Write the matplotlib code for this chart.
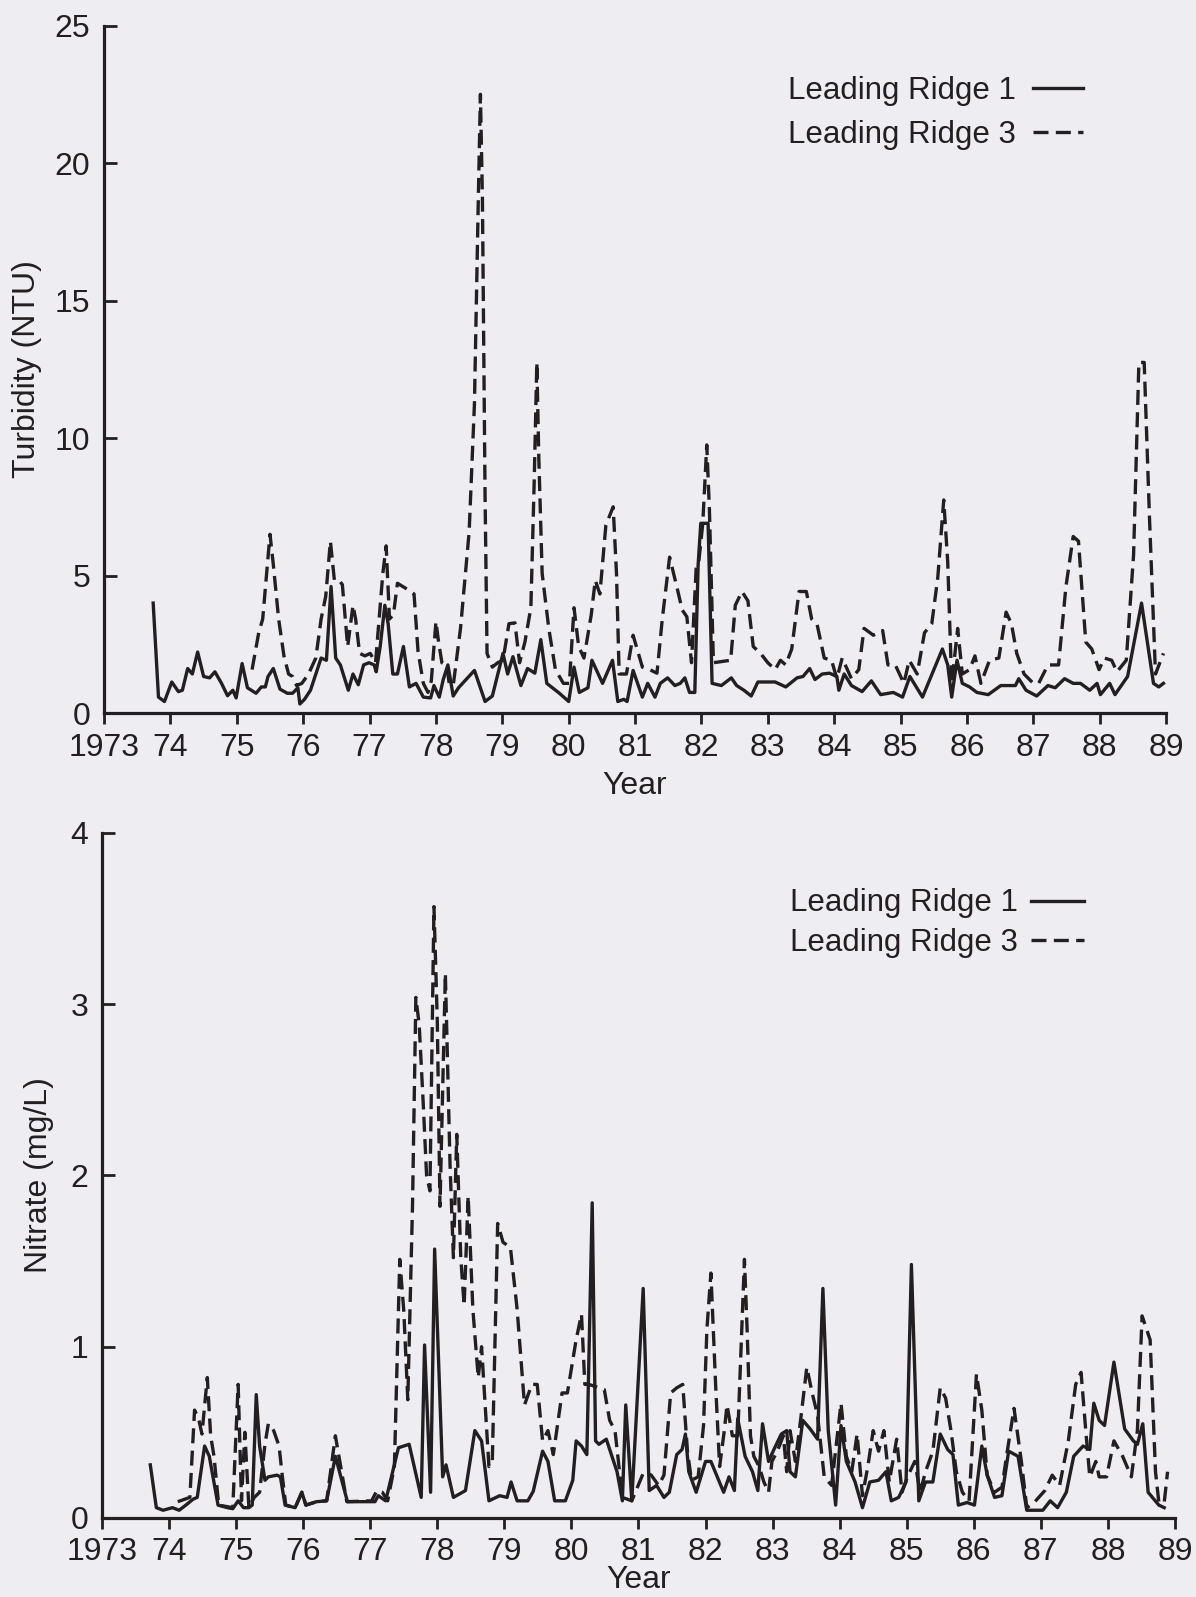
import matplotlib
matplotlib.use("Agg")
import matplotlib.pyplot as plt
import numpy as np

plt.rcParams['font.family'] = ['Liberation Sans', 'DejaVu Sans']

# axis ticks (two-digit years, first one written in full)
years = list(range(73, 90))
year_labels = ['1973'] + [str(y) for y in years[1:]]

# Turbidity (NTU), Leading Ridge 1
turb_lr1_x = [73.74, 73.82, 73.91, 74.02, 74.12, 74.18, 74.26, 74.33, 74.41, 74.50, 74.59, 74.67, 74.77, 74.86,
              74.94, 74.99, 75.08, 75.16, 75.29, 75.37, 75.43, 75.47, 75.55, 75.65, 75.76, 75.84, 75.92, 75.95,
              76.02, 76.11, 76.19, 76.27, 76.35, 76.42, 76.49, 76.56, 76.68, 76.75, 76.83, 76.91, 76.99, 77.07,
              77.10, 77.16, 77.23, 77.28, 77.35, 77.42, 77.51, 77.60, 77.70, 77.81, 77.92, 77.97, 78.05, 78.11,
              78.18, 78.26, 78.34, 78.58, 78.74, 78.85, 79.01, 79.08, 79.16, 79.28, 79.38, 79.49, 79.58, 79.67,
              79.86, 80.00, 80.08, 80.16, 80.29, 80.35, 80.51, 80.66, 80.74, 80.83, 80.88, 80.97, 81.11, 81.19,
              81.30, 81.38, 81.49, 81.60, 81.68, 81.75, 81.82, 81.90, 81.95, 81.99, 82.10, 82.16, 82.30, 82.45,
              82.53, 82.64, 82.75, 82.85, 83.11, 83.27, 83.44, 83.53, 83.63, 83.71, 83.82, 83.93, 84.04, 84.07,
              84.15, 84.26, 84.42, 84.56, 84.70, 84.89, 85.03, 85.14, 85.33, 85.63, 85.71, 85.77, 85.85, 85.93,
              86.04, 86.15, 86.32, 86.51, 86.73, 86.78, 86.89, 87.05, 87.22, 87.33, 87.47, 87.60, 87.71, 87.85,
              87.96, 88.01, 88.15, 88.23, 88.42, 88.63, 88.81, 88.89, 88.96]
turb_lr1 = [4.0, 0.58, 0.42, 1.13, 0.78, 0.83, 1.62, 1.42, 2.22, 1.33, 1.28, 1.5, 1.08, 0.63,
            0.83, 0.55, 1.8, 0.92, 0.72, 0.95, 0.95, 1.33, 1.62, 0.87, 0.72, 0.72, 0.92, 0.33,
            0.5, 0.83, 1.42, 2.0, 1.92, 4.6, 2.0, 1.75, 0.83, 1.42, 1.03, 1.75, 1.83, 1.75,
            1.5, 2.42, 3.92, 3.25, 1.42, 1.42, 2.42, 0.95, 1.08, 0.58, 0.55, 1.0, 0.58, 1.22,
            1.75, 0.62, 0.92, 1.55, 0.42, 0.62, 2.17, 1.42, 2.05, 1.0, 1.62, 1.45, 2.67, 1.08,
            0.72, 0.42, 1.67, 0.75, 0.92, 1.92, 1.08, 1.92, 0.42, 0.5, 0.42, 1.55, 0.58, 1.08,
            0.58, 1.08, 1.28, 1.0, 1.08, 1.28, 0.75, 0.75, 5.4, 6.9, 6.9, 1.08, 1.0, 1.28,
            1.0, 0.83, 0.62, 1.13, 1.13, 0.95, 1.28, 1.33, 1.62, 1.22, 1.42, 1.45, 1.33, 0.83,
            1.42, 1.0, 0.78, 1.17, 0.67, 0.75, 0.58, 1.33, 0.58, 2.33, 1.75, 0.58, 1.92, 1.08,
            0.95, 0.75, 0.67, 1.0, 1.0, 1.25, 0.83, 0.62, 1.0, 0.92, 1.25, 1.08, 1.08, 0.83,
            1.08, 0.67, 1.08, 0.67, 1.33, 4.0, 1.08, 0.95, 1.08]

# Turbidity (NTU), Leading Ridge 3
turb_lr3_x = [75.23, 75.33, 75.39, 75.50, 75.55, 75.63, 75.71, 75.78, 75.84, 75.90, 75.98, 76.08, 76.19, 76.27,
              76.34, 76.41, 76.47, 76.54, 76.59, 76.67, 76.75, 76.79, 76.85, 76.93, 77.01, 77.09, 77.20, 77.25,
              77.30, 77.36, 77.42, 77.57, 77.67, 77.73, 77.81, 77.88, 77.93, 78.00, 78.04, 78.09, 78.16, 78.20,
              78.26, 78.37, 78.50, 78.58, 78.64, 78.67, 78.70, 78.74, 78.77, 78.85, 78.93, 79.01, 79.10, 79.19,
              79.26, 79.34, 79.43, 79.48, 79.52, 79.55, 79.60, 79.70, 79.80, 79.92, 80.01, 80.08, 80.15, 80.23,
              80.34, 80.40, 80.47, 80.56, 80.67, 80.72, 80.76, 80.87, 80.97, 81.11, 81.22, 81.33, 81.41, 81.52,
              81.63, 81.71, 81.78, 81.85, 81.92, 81.96, 82.02, 82.08, 82.12, 82.18, 82.44, 82.51, 82.61, 82.70,
              82.78, 82.89, 83.00, 83.11, 83.19, 83.27, 83.36, 83.47, 83.58, 83.66, 83.74, 83.85, 83.96, 84.04,
              84.12, 84.26, 84.37, 84.45, 84.59, 84.73, 84.81, 84.92, 85.05, 85.13, 85.25, 85.36, 85.47, 85.56,
              85.65, 85.71, 85.77, 85.86, 85.93, 86.04, 86.12, 86.21, 86.34, 86.48, 86.59, 86.67, 86.75, 86.86,
              87.00, 87.08, 87.22, 87.38, 87.49, 87.60, 87.68, 87.79, 87.88, 87.99, 88.07, 88.18, 88.26, 88.40,
              88.51, 88.59, 88.67, 88.75, 88.84, 88.96]
turb_lr3 = [1.58, 2.92, 3.42, 6.5, 5.4, 3.42, 2.08, 1.42, 1.33, 1.0, 1.08, 1.42, 2.0, 3.42,
            4.25, 6.25, 4.83, 4.83, 4.67, 2.42, 3.92, 3.42, 2.17, 2.08, 2.17, 1.83, 5.08, 6.08,
            3.42, 3.58, 4.72, 4.5, 4.33, 2.25, 1.08, 0.75, 1.17, 3.33, 2.58, 1.83, 1.75, 1.08,
            1.0, 3.08, 6.58, 11.25, 18.9, 22.5, 18.75, 7.9, 2.17, 1.67, 1.83, 1.92, 3.25, 3.28,
            1.83, 2.58, 3.83, 8.4, 12.75, 9.25, 5.08, 3.08, 1.58, 1.08, 1.08, 3.83, 2.42, 2.0,
            3.58, 4.83, 4.33, 6.83, 7.5, 5.08, 1.42, 1.42, 2.83, 1.67, 1.58, 1.45, 3.42, 5.67,
            4.58, 3.75, 3.5, 1.83, 5.25, 5.5, 6.9, 9.75, 7.4, 1.83, 1.92, 3.92, 4.42, 4.08,
            2.42, 2.17, 1.83, 1.58, 1.92, 1.75, 2.33, 4.42, 4.42, 3.42, 3.25, 2.0, 1.92, 1.25,
            2.0, 1.25, 1.58, 3.08, 2.83, 3.0, 1.75, 1.75, 1.08, 1.92, 1.42, 2.92, 3.25, 4.92,
            7.75, 5.5, 1.08, 3.08, 1.42, 1.58, 2.08, 1.08, 1.92, 2.0, 3.67, 3.25, 2.17, 1.42,
            1.08, 1.08, 1.75, 1.75, 4.58, 6.42, 6.25, 2.58, 2.33, 1.58, 2.0, 1.92, 1.5, 1.92,
            5.75, 12.75, 12.75, 7.08, 1.42, 2.17]

# Nitrate (mg/L), Leading Ridge 1
nit_lr1_x = [73.72, 73.81, 73.91, 74.05, 74.15, 74.25, 74.36, 74.42, 74.53, 74.60, 74.73, 74.87, 74.95, 75.03,
             75.11, 75.19, 75.24, 75.30, 75.35, 75.43, 75.48, 75.61, 75.66, 75.73, 75.88, 75.98, 76.04, 76.20,
             76.35, 76.48, 76.66, 77.07, 77.12, 77.23, 77.42, 77.58, 77.76, 77.81, 77.90, 77.96, 78.08, 78.13,
             78.24, 78.42, 78.56, 78.66, 78.77, 78.93, 79.04, 79.10, 79.19, 79.35, 79.43, 79.57, 79.65, 79.75,
             79.91, 80.02, 80.07, 80.15, 80.23, 80.31, 80.36, 80.41, 80.52, 80.68, 80.76, 80.81, 80.90, 81.07,
             81.16, 81.27, 81.38, 81.46, 81.57, 81.65, 81.70, 81.75, 81.86, 82.00, 82.08, 82.27, 82.35, 82.43,
             82.48, 82.59, 82.70, 82.78, 82.85, 82.94, 83.02, 83.13, 83.21, 83.26, 83.34, 83.45, 83.56, 83.67,
             83.75, 83.83, 83.94, 84.02, 84.10, 84.23, 84.34, 84.45, 84.58, 84.69, 84.77, 84.88, 84.99, 85.07,
             85.18, 85.28, 85.39, 85.50, 85.61, 85.69, 85.77, 85.90, 86.01, 86.12, 86.20, 86.31, 86.42, 86.52,
             86.66, 86.79, 86.90, 87.03, 87.14, 87.25, 87.38, 87.49, 87.63, 87.73, 87.79, 87.87, 87.95, 88.09,
             88.25, 88.38, 88.44, 88.52, 88.60, 88.76, 88.84]
nit_lr1 = [0.31, 0.06, 0.045, 0.06, 0.045, 0.075, 0.11, 0.12, 0.42, 0.36, 0.075, 0.06, 0.054, 0.1,
           0.06, 0.06, 0.075, 0.72, 0.42, 0.22, 0.24, 0.25, 0.24, 0.075, 0.06, 0.15, 0.075, 0.095,
           0.1, 0.36, 0.095, 0.095, 0.13, 0.1, 0.41, 0.43, 0.12, 1.01, 0.15, 1.57, 0.24, 0.31,
           0.12, 0.16, 0.51, 0.45, 0.1, 0.13, 0.12, 0.21, 0.1, 0.1, 0.155, 0.39, 0.33, 0.1,
           0.1, 0.22, 0.45, 0.42, 0.37, 1.84, 0.45, 0.43, 0.46, 0.27, 0.1, 0.66, 0.1, 1.34,
           0.16, 0.19, 0.12, 0.15, 0.37, 0.40, 0.49, 0.27, 0.15, 0.33, 0.33, 0.15, 0.24, 0.16,
           0.58, 0.36, 0.27, 0.16, 0.55, 0.33, 0.40, 0.49, 0.51, 0.27, 0.24, 0.57, 0.52, 0.46,
           1.34, 0.51, 0.075, 0.54, 0.33, 0.21, 0.06, 0.21, 0.22, 0.27, 0.1, 0.12, 0.21, 1.48,
           0.1, 0.21, 0.21, 0.49, 0.40, 0.37, 0.075, 0.09, 0.075, 0.42, 0.25, 0.12, 0.13, 0.39,
           0.36, 0.045, 0.045, 0.045, 0.1, 0.06, 0.15, 0.36, 0.42, 0.40, 0.67, 0.57, 0.54, 0.91,
           0.52, 0.45, 0.43, 0.55, 0.15, 0.075, 0.06]

# Nitrate (mg/L), Leading Ridge 3
nit_lr3_x = [74.13, 74.31, 74.38, 74.44, 74.49, 74.57, 74.62, 74.67, 74.74, 74.95, 75.03, 75.08, 75.13, 75.19,
             75.27, 75.35, 75.43, 75.48, 75.56, 75.64, 75.69, 75.74, 75.88, 75.98, 76.04, 76.20, 76.35, 76.48,
             76.65, 77.02, 77.10, 77.18, 77.26, 77.36, 77.44, 77.50, 77.56, 77.63, 77.68, 77.73, 77.79, 77.84,
             77.89, 77.95, 78.00, 78.04, 78.12, 78.19, 78.24, 78.29, 78.35, 78.40, 78.46, 78.53, 78.61, 78.66,
             78.77, 78.82, 78.90, 78.98, 79.09, 79.19, 79.30, 79.41, 79.49, 79.57, 79.65, 79.73, 79.86, 79.94,
             80.07, 80.15, 80.20, 80.26, 80.49, 80.57, 80.65, 80.70, 80.76, 80.90, 81.08, 81.19, 81.30, 81.38,
             81.48, 81.57, 81.66, 81.73, 81.79, 81.89, 81.97, 82.02, 82.08, 82.15, 82.21, 82.28, 82.32, 82.40,
             82.48, 82.58, 82.62, 82.67, 82.72, 82.80, 82.87, 82.94, 82.99, 83.07, 83.16, 83.21, 83.26, 83.34,
             83.42, 83.51, 83.59, 83.67, 83.77, 83.88, 84.02, 84.10, 84.18, 84.26, 84.34, 84.42, 84.50, 84.58,
             84.66, 84.74, 84.85, 84.93, 85.01, 85.12, 85.20, 85.28, 85.39, 85.50, 85.58, 85.66, 85.74, 85.83,
             85.93, 86.04, 86.12, 86.20, 86.31, 86.42, 86.50, 86.60, 86.71, 86.79, 86.90, 87.06, 87.17, 87.28,
             87.41, 87.52, 87.60, 87.67, 87.73, 87.82, 87.87, 87.98, 88.09, 88.22, 88.35, 88.44, 88.51, 88.63,
             88.71, 88.76, 88.84, 88.89]
nit_lr3 = [0.095, 0.12, 0.63, 0.58, 0.49, 0.82, 0.48, 0.36, 0.075, 0.06, 0.78, 0.1, 0.5, 0.06,
           0.12, 0.15, 0.43, 0.55, 0.51, 0.42, 0.24, 0.075, 0.06, 0.15, 0.075, 0.095, 0.1, 0.48,
           0.095, 0.1, 0.16, 0.15, 0.1, 0.3, 1.51, 1.21, 0.69, 1.82, 3.04, 2.88, 2.42, 2.0,
           1.91, 3.57, 2.9, 1.82, 3.18, 2.06, 1.52, 2.24, 1.52, 1.24, 1.88, 1.22, 0.82, 1.0,
           0.3, 0.33, 1.72, 1.61, 1.58, 1.22, 0.66, 0.78, 0.78, 0.45, 0.51, 0.37, 0.73, 0.73,
           1.04, 1.19, 0.78, 0.78, 0.75, 0.57, 0.51, 0.33, 0.12, 0.1, 0.27, 0.25, 0.19, 0.25,
           0.73, 0.76, 0.78, 0.39, 0.22, 0.24, 0.54, 1.10, 1.43, 0.78, 0.3, 0.51, 0.66, 0.48,
           0.48, 1.51, 1.10, 0.48, 0.36, 0.3, 0.21, 0.15, 0.33, 0.39, 0.48, 0.27, 0.51, 0.33,
           0.58, 0.88, 0.73, 0.6, 0.24, 0.19, 0.67, 0.36, 0.27, 0.49, 0.13, 0.3, 0.51, 0.39,
           0.51, 0.21, 0.46, 0.15, 0.24, 0.33, 0.15, 0.27, 0.39, 0.76, 0.70, 0.51, 0.27, 0.15,
           0.1, 0.84, 0.63, 0.25, 0.15, 0.18, 0.39, 0.64, 0.33, 0.06, 0.09, 0.16, 0.25, 0.19,
           0.45, 0.78, 0.85, 0.51, 0.24, 0.33, 0.24, 0.24, 0.45, 0.36, 0.24, 0.51, 1.18, 1.04,
           0.27, 0.09, 0.09, 0.27]

labels = ['Leading Ridge 1', 'Leading Ridge 3']

ink = '#231f20'
bg = '#eeedf2'
dash = (0, (4.5, 2.2))

fig = plt.figure(figsize=(11.96, 15.97), dpi=100, facecolor=bg)
ax1 = fig.add_axes([0.087, 0.5535, 0.888, 0.4305])
ax2 = fig.add_axes([0.0853, 0.0495, 0.8971, 0.4289])


def style(ax, ymax, ystep, ylabel, ylabelpad, xlabelpad):
    ax.set_facecolor(bg)
    for s in ['top', 'right']:
        ax.spines[s].set_visible(False)
    for s in ['left', 'bottom']:
        ax.spines[s].set_linewidth(2.3)
        ax.spines[s].set_color(ink)
    ax.set_xlim(73, 89)
    ax.set_ylim(0, ymax)
    ax.set_xticks(years)
    ax.set_xticklabels(year_labels)
    ax.set_yticks(np.arange(0, ymax + ystep / 2, ystep))
    ax.tick_params(axis='x', direction='out', length=8, width=2, pad=6,
                   labelsize=23, colors=ink)
    ax.tick_params(axis='y', direction='in', length=9, width=2, pad=10,
                   labelsize=23, colors=ink)
    ax.set_xlabel('Year', fontsize=23, color=ink, labelpad=xlabelpad)
    ax.set_ylabel(ylabel, fontsize=23, color=ink, labelpad=ylabelpad)


# Wykres 1 - turbidity
style(ax1, 25, 5, 'Turbidity (NTU)', 9, 6)
l1, = ax1.plot(turb_lr1_x, turb_lr1, color=ink, lw=2.4)
l3, = ax1.plot(turb_lr3_x, turb_lr3, color=ink, lw=2.4, linestyle=dash)
ax1.legend([l1, l3], labels, loc='upper right', bbox_to_anchor=(0.922, 0.927),
           markerfirst=False, frameon=False, fontsize=22.5, handlelength=1.6,
           handletextpad=0.55, labelspacing=0.45, borderpad=0, borderaxespad=0,
           labelcolor=ink)

# Wykres 2 - nitrate
style(ax2, 4, 1, 'Nitrate (mg/L)', 12, -2)
m1, = ax2.plot(nit_lr1_x, nit_lr1, color=ink, lw=2.4)
m3, = ax2.plot(nit_lr3_x, nit_lr3, color=ink, lw=2.4, linestyle=dash)
ax2.legend([m1, m3], labels, loc='upper right', bbox_to_anchor=(0.915, 0.919),
           markerfirst=False, frameon=False, fontsize=22.5, handlelength=1.7,
           handletextpad=0.4, labelspacing=0.3, borderpad=0, borderaxespad=0,
           labelcolor=ink)

fig.savefig('out.png', dpi=100, facecolor=bg)
